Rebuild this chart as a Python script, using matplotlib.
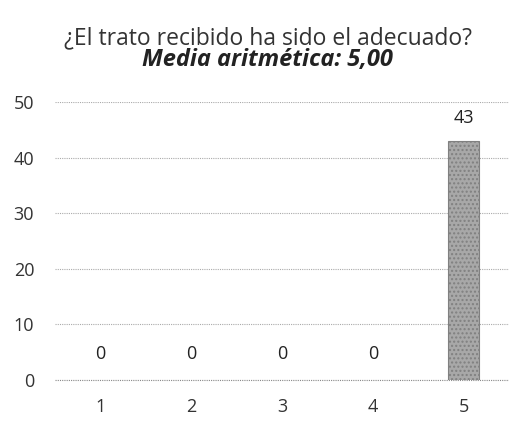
import numpy as np
import matplotlib.pyplot as plt

# ------------
# Chart data
# ------------
categories = ["1", "2", "3", "4", "5"]
counts = [0, 0, 0, 0, 43]
y_ticks = [0, 10, 20, 30, 40, 50]

title_line1 = "¿El trato recibido ha sido el adecuado?"
title_line2 = "Media aritmética: 5,00"

plt.rcParams['font.family'] = ['Open Sans', 'DejaVu Sans']

fig = plt.figure(figsize=(5.10, 4.23), dpi=100)
ax = fig.add_axes([0.108, 0.102, 0.89, 0.657])

x = np.arange(len(categories))
lw = [0.8 if v > 0 else 0 for v in counts]
bars = ax.bar(x, counts, width=0.34, color='#a8a8a8', edgecolor='#808080',
              linewidth=lw, hatch='....', zorder=3)

# value labels above each bar
for xi, v in zip(x, counts):
    off = 10 if v > 0 else 12
    ax.annotate(str(v), (xi, v), xytext=(0, off), textcoords='offset points',
                ha='center', va='bottom', fontsize=13, color='#222222')

ax.set_xlim(-0.5, len(categories) - 0.5)
ax.set_ylim(0, 50)
ax.set_yticks(y_ticks)
ax.set_xticks(x)
ax.set_xticklabels(categories)
ax.tick_params(axis='both', length=0, labelsize=13, colors='#333333')
ax.tick_params(axis='x', pad=13)
ax.tick_params(axis='y', pad=15)

ax.grid(axis='y', linestyle=(0, (1, 1)), linewidth=0.8, color='#aaaaaa', zorder=0)
ax.axhline(0, linestyle=(0, (1, 1)), linewidth=0.8, color='#888888', zorder=2, clip_on=False)
for s in ax.spines.values():
    s.set_visible(False)

fig.text(0.525, 0.910, title_line1, ha='center', va='center', fontsize=16.5, color='#333333')
fig.text(0.525, 0.857, title_line2, ha='center', va='center', fontsize=17,
         style='italic', weight='bold', color='#222222')

fig.savefig('out.png', dpi=100)
